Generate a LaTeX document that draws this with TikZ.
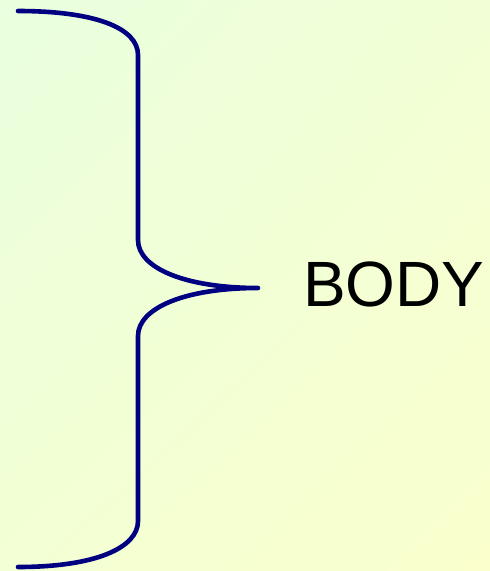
\documentclass[tikz,border=0pt]{standalone}
\usepackage{fontspec}
\setmainfont{Liberation Sans}
\usetikzlibrary{shadings}
\definecolor{bracecol}{RGB}{0,0,128}
\definecolor{bgtl}{RGB}{233,255,222}
\definecolor{bgtr}{RGB}{242,255,214}
\definecolor{bgbl}{RGB}{243,255,212}
\definecolor{bgbr}{RGB}{250,255,204}
\tikzset{
  bracepath/.style={draw=bracecol, line width=4.6pt, line cap=round, line join=round},
  labeltext/.style={font=\fontsize{64}{72}\selectfont, text=black, inner sep=0pt}
}
\begin{document}
\begin{tikzpicture}[x=1pt,y=-1pt]
  % background
  \shade[upper left=bgtl, upper right=bgtr, lower left=bgbl, lower right=bgbr]
    (0,0) rectangle (490,571);
  \useasboundingbox (0,0) rectangle (490,571);
  % brace ends and tip
  \coordinate (top) at (18,11);
  \coordinate (bottom) at (18,567);
  \coordinate (tip) at (258,288);
  \draw[bracepath] (top)
    .. controls (95,11) and (138,28) .. (138,55)
    -- (138,240)
    .. controls (138,268) and (185,288) .. (tip)
    .. controls (185,288) and (138,308) .. (138,336)
    -- (138,521)
    .. controls (138,548) and (95,567) .. (bottom);
  \node[labeltext, anchor=base west] (body) at (303,306) {BODY};
\end{tikzpicture}
\end{document}
